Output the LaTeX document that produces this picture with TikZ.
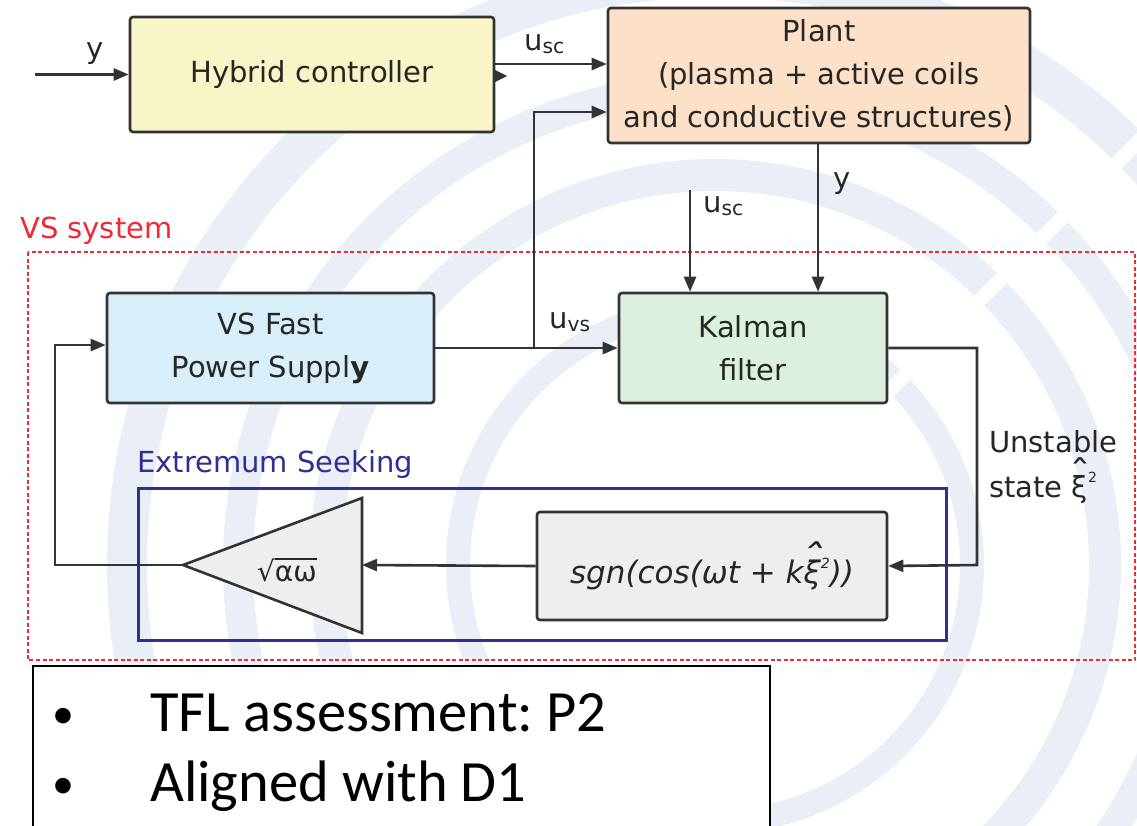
\documentclass[tikz,border=0pt]{standalone}
\usepackage{fontspec}
\setmainfont{DejaVu Sans}
\newfontfamily\carlfont{Carlito}
\usetikzlibrary{arrows.meta}
\definecolor{wmc}{HTML}{EAEEF6}
\definecolor{boxline}{HTML}{333333}
\definecolor{txtc}{HTML}{262626}
\definecolor{hybfill}{HTML}{F8F6C6}
\definecolor{plantfill}{HTML}{FCE1C8}
\definecolor{vsfill}{HTML}{D8EFFA}
\definecolor{kalfill}{HTML}{DCF0E0}
\definecolor{grayfill}{HTML}{EEEEEE}
\definecolor{vsred}{HTML}{EE2A36}
\definecolor{esblue}{HTML}{2E3192}
\newcommand{\xihatsq}{\setbox0\hbox{ξ}\rlap{\raisebox{0.38em}{\hbox to\wd0{\hss\scalebox{1.5}[1.2]{ˆ}\hss}}}\box0\raisebox{0.5em}{\fontsize{14}{14}\selectfont 2}}
\begin{document}
\frenchspacing
\begin{tikzpicture}[x=1pt,y=-1pt,
  box/.style={draw=boxline,line width=2.6pt,rounded corners=3pt,inner sep=0pt,align=center,text=txtc,font=\fontsize{29}{43}\selectfont},
  wire/.style={draw=boxline,line width=2.6pt},
  arr/.style={wire,-{Triangle[length=15pt,width=12pt]}},
  lbl/.style={inner sep=0pt,text=txtc,font=\fontsize{29}{35}\selectfont},
  bul/.style={inner sep=0pt,text=black,font=\carlfont\fontsize{58.5}{60}\selectfont}]
\useasboundingbox (0,0) rectangle (1137,825);
\fill[white] (0,0) rectangle (1137,825);
% watermark
\begin{scope}
\clip (0,0) rectangle (1137,825);
\foreach \r/\w in {257/24,390/32,477/30,588/40}{\draw[wmc,line width=\w pt] (715,565) circle[radius=\r];}
\draw[white,line width=14pt] (715,565) -- ++(-45:800);
\end{scope}
% frames
\draw[vsred,line width=2.2pt,dash pattern=on 4pt off 2.5pt] (28,252) rectangle (1135,660);
\node[lbl,text=vsred,anchor=base west] (vslab) at (20,238) {VS system};
\draw[esblue,line width=3pt] (138,488) rectangle (946,640);
\node[lbl,text=esblue,anchor=base west] (eslab) at (137,472) {Extremum Seeking};
% blocks
\node[box,fill=hybfill,minimum width=364pt,minimum height=115pt] (hyb) at (312,74.5) {Hybrid controller};
\node[box,fill=plantfill,minimum width=422pt,minimum height=135pt] (plant) at (819,75.5) {Plant\\(plasma + active coils\\and conductive structures)};
\node[box,fill=vsfill,minimum width=327pt,minimum height=110pt] (vsps) at (270.5,348) {VS Fast\\Power Suppl\textbf{y}};
\node[box,fill=kalfill,minimum width=268pt,minimum height=110pt] (kal) at (753,348) {Kalman\\filter};
\node[box,fill=grayfill,minimum width=350pt,minimum height=108pt,font=\fontsize{31}{35}\selectfont\itshape] (sgn) at (712,566) {sgn(cos(ωt + k\xihatsq))};
\coordinate (ampin) at (362,565);
\coordinate (ampout) at (183,565);
\filldraw[fill=grayfill,draw=boxline,line width=2.6pt,line join=miter] (362,498) -- (ampout) -- (362,633) -- cycle;
\node[lbl,font=\fontsize{28}{30}\selectfont] (ampl) at (287,570) {\setbox0\hbox{αω}√\rlap{\rule[0.76em]{\wd0}{0.055em}}\box0};
% connectors
\coordinate (yin) at (35,74.5);
\draw[arr] (yin) -- (hyb.west);
\node[lbl,anchor=base] (ylab1) at (95,58) {y};
\coordinate (uscy) at (0,64);
\draw[arr] (hyb.east |- uscy) -- (plant.west |- uscy);
\fill[boxline] (495,70) -- (507,76) -- (495,82) -- cycle;
\node[lbl,anchor=base west] (usclab1) at (524,50) {u\textsubscript{sc}};
\coordinate (junc) at (534,348);
\coordinate (uvsy) at (0,112);
\draw[arr] (vsps.east) -- (kal.west);
\draw[arr] (junc) |- (plant.west |- uvsy);
\node[lbl,anchor=base west] (uvslab) at (549,328) {u\textsubscript{vs}};
\coordinate (usc2) at (690,190);
\draw[arr] (usc2) -- (kal.north -| usc2);
\node[lbl,anchor=base west] (usclab2) at (703,212) {u\textsubscript{sc}};
\coordinate (ycol) at (818,0);
\draw[arr] (plant.south -| ycol) -- (kal.north -| ycol);
\node[lbl,anchor=base west] (ylab2) at (833,188) {y};
\coordinate (kcorner) at (977,565);
\draw[arr] (kal.east) -| (kcorner) -- (sgn.east);
\node[lbl,anchor=base west] (unst1) at (989,452) {Unstable};
\node[lbl,anchor=base west] (unst2) at (989,497) {state \xihatsq};
\draw[arr] (sgn.west) -- (ampin);
\coordinate (fbk) at (55,345);
\draw[arr] (ampout) -| (fbk) -- (vsps.west |- fbk);
% bottom box
\draw[black,line width=2pt,fill=white] (33,666) rectangle (770,840);
\node[bul,anchor=base,font=\carlfont\fontsize{44}{48}\selectfont] (b1) at (63,728) {•};
\node[bul,anchor=base west] (t1) at (150,731) {TFL assessment: P2};
\node[bul,anchor=base,font=\carlfont\fontsize{44}{48}\selectfont] (b2) at (63,798) {•};
\node[bul,anchor=base west] (t2) at (150,801) {Aligned with D1};
\end{tikzpicture}
\end{document}
